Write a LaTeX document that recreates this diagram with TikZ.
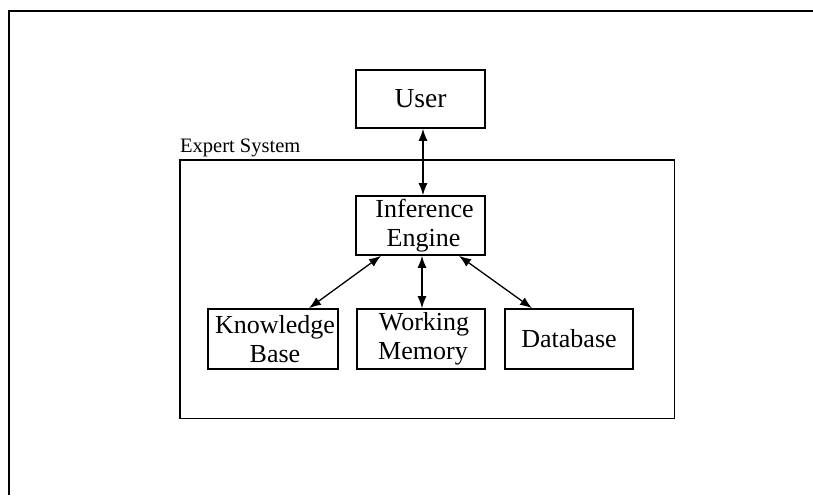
\documentclass[tikz,border=0pt]{standalone}
\usepackage{fontspec}
\setmainfont{Liberation Serif}
\usetikzlibrary{arrows.meta}
\begin{document}
\begin{tikzpicture}[x=1pt,y=-1pt,
  compbox/.style={draw=black, line width=1.6pt, inner sep=0pt, align=center,
    font=\fontsize{26}{28.5}\selectfont},
  link/.style={line width=1.3pt, {Latex[length=12pt,width=9pt]}-{Latex[length=12pt,width=9pt]}},
  frame/.style={line width=1.8pt}]
\useasboundingbox (0,0) rectangle (813,495);
% outer frame (left and top edges only)
\draw[frame] (9,495) -- (9,11) -- (813,11);
% expert system boundary
\draw[line width=1.5pt] (180,160) rectangle (674.5,418.5);
\node[anchor=base west, inner sep=0pt, font=\fontsize{20.5}{24}\selectfont] (eslabel) at (180,152) {Expert System};
% components
\node[compbox, minimum width=129pt, minimum height=58pt, font=\fontsize{27.5}{30}\selectfont] (user) at (420.5,99) {User};
\node[compbox, minimum width=129pt, minimum height=59pt] (ie) at (420.5,225.5) {\hspace*{8pt}Inference\\\hspace*{6pt}Engine};
\node[compbox, minimum width=130pt, minimum height=60pt] (kb) at (273,339) {\hspace*{4pt}Knowledge\\\hspace*{4pt}Base};
\node[compbox, minimum width=128pt, minimum height=60pt] (wm) at (421,339) {\hspace*{6pt}Working\\\hspace*{4pt}Memory};
\node[compbox, minimum width=128pt, minimum height=60pt] (db) at (569,339) {Database};
% connectors
\draw[link] ([xshift=2.5pt]user.south) -- ([xshift=2.5pt]ie.north);
\draw[link] ([xshift=-39.5pt]ie.south) -- ([xshift=36pt]kb.north);
\draw[link] ([xshift=1.5pt]ie.south) -- ([xshift=1pt]wm.north);
\draw[link] ([xshift=38.5pt]ie.south) -- ([xshift=-37pt]db.north);
\end{tikzpicture}
\end{document}
